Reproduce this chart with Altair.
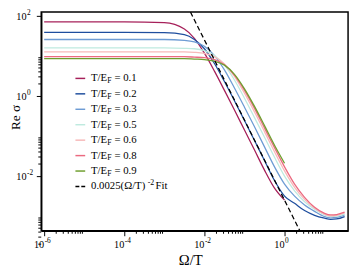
import altair as alt
import pandas as pd

# ---- data ----
omega = [1e-6, 1e-4, 1e-3, 3.16e-3, 5.62e-3, 1e-2, 1.78e-2, 3.16e-2, 5.62e-2,
         0.1, 0.178, 0.316, 0.562, 1.0, 1.78, 3.16, 5.62, 10.0, 14.1, 20.0, 31.6]

sig_01 = [70.8, 70.8, 67.6, 46.8, 27.5, 11.7, 4.17, 1.38, 0.447, 0.141, 0.0447,
          0.0141, 0.00501, 0.00251]
sig_02 = [38.9, 38.9, 38.0, 33.9, 25.7, 15.1, 6.46, 2.29, 0.759, 0.245, 0.0776,
          0.0245, 0.00776, 0.00316, 0.00209, 0.00138, 0.00105, 0.000891,
          0.000832, 0.000851, 0.000977]
sig_03 = [25.7, 25.7, 25.7, 24.5, 22.4, 17.4, 10.2, 4.47, 1.58, 0.525, 0.170,
          0.0537, 0.0170, 0.00631, 0.00316, 0.00191, 0.00132, 0.000977,
          0.000912, 0.000933, 0.00107]
sig_05 = [15.8, 15.8, 15.8, 15.5, 15.1, 13.5, 10.2, 5.89, 2.51, 0.881, 0.288,
          0.0933, 0.0295, 0.0100, 0.00427, 0.00229, 0.00148, 0.00107,
          0.000977, 0.00100, 0.00112]
sig_06 = [12.6, 12.6, 12.6, 12.6, 12.3, 11.5, 9.55, 6.31, 3.09, 1.17, 0.398,
          0.129, 0.0407, 0.0135, 0.00525, 0.00263, 0.00158, 0.00112,
          0.00102, 0.00105, 0.00120]
sig_08 = [9.55, 9.55, 9.55, 9.55, 9.33, 9.02, 8.05, 6.03, 3.31, 1.38, 0.490,
          0.158, 0.0513, 0.0170, 0.00631, 0.00295, 0.00166, 0.00117,
          0.00107, 0.00110, 0.00126]
sig_09 = [8.51, 8.51, 8.51, 8.51, 8.32, 8.13, 7.41, 5.89, 3.47, 1.51, 0.550,
          0.182, 0.0589, 0.0209]

temps = ["0.1", "0.2", "0.3", "0.5", "0.6", "0.8", "0.9"]
series = [sig_01, sig_02, sig_03, sig_05, sig_06, sig_08, sig_09]
colors = ["#A6205A", "#1F4E9E", "#6E9CD4", "#BFEADF", "#F7B9B9", "#EB6A80", "#6E9F2E"]

fit_x = [0.003, 3.0]
fit_y = [278.0, 0.000278]

x_major = [1e-6, 1e-4, 1e-2, 1.0]
x_exp = ["-6", "-4", "-2", "0"]
y_major = [1e-2, 1.0, 100.0]
y_exp = ["-2", "0", "2"]
minor_mult = [2, 3, 4, 5, 6, 7, 8, 9]

x_title = "Ω/T"
y_title = "Re σ"

# ---- tables ----
rows = []
for t, vals in zip(temps, series):
    for i, v in enumerate(vals):
        rows.append({"omega": omega[i], "sigma": v, "T": t, "k": i})
df = pd.DataFrame(rows)
fit_df = pd.DataFrame({"omega": fit_x, "sigma": fit_y})

x_minor = [m * d for d in x_major for m in minor_mult]
y_minor = [m * d for d in [1e-4, 1e-2, 1.0] for m in minor_mult]

W, H = 314, 224
xscale = alt.Scale(type="log", domain=[8.45e-7, 38.5], nice=False)
yscale = alt.Scale(type="log", domain=[4.3e-4, 125.2], nice=False)

FONT = "Liberation Serif"

xaxis = alt.Axis(values=x_major, labels=False, title=None, tickSize=5, grid=False)
yaxis = alt.Axis(values=y_major, labels=False, title=None, tickSize=5, grid=False)

color_scale = alt.Scale(domain=temps, range=colors)

curves = alt.Chart(df).mark_line(clip=True, strokeWidth=1.3, interpolate="monotone").encode(
    x=alt.X("omega:Q", scale=xscale, axis=xaxis),
    y=alt.Y("sigma:Q", scale=yscale, axis=yaxis),
    color=alt.Color("T:N", scale=color_scale, legend=None),
    order="k:Q",
)

fit = alt.Chart(fit_df).mark_line(clip=True, strokeWidth=1.3, color="black",
                                  strokeDash=[5, 3]).encode(
    x=alt.X("omega:Q", scale=xscale, axis=xaxis),
    y=alt.Y("sigma:Q", scale=yscale, axis=yaxis),
)

# minor ticks (outward, short)
xm = pd.DataFrame({"omega": x_minor})
ym = pd.DataFrame({"sigma": y_minor})
x_minor_ticks = alt.Chart(xm).mark_rule(color="black", strokeWidth=1).encode(
    x=alt.X("omega:Q", scale=xscale, axis=xaxis),
    y=alt.value(H), y2=alt.value(H + 3),
)
y_minor_ticks = alt.Chart(ym).mark_rule(color="black", strokeWidth=1).encode(
    y=alt.Y("sigma:Q", scale=yscale, axis=yaxis),
    x=alt.value(0), x2=alt.value(-3),
)

# tick labels: "10" with a raised exponent
xl = pd.DataFrame({"omega": x_major, "exp": x_exp})
yl = pd.DataFrame({"sigma": y_major, "exp": y_exp})
x_lab10 = alt.Chart(xl).mark_text(align="right", baseline="middle", font=FONT,
                                  fontSize=10.5, color="black").encode(
    x=alt.X("omega:Q", scale=xscale, axis=xaxis), y=alt.value(H + 15),
    text=alt.value("10"))
x_labexp = alt.Chart(xl).mark_text(align="left", baseline="middle", font=FONT,
                                   fontSize=7.5, dx=0.5, color="black").encode(
    x=alt.X("omega:Q", scale=xscale, axis=xaxis), y=alt.value(H + 10),
    text="exp:N")
y_lab10 = alt.Chart(yl).mark_text(align="right", baseline="middle", font=FONT,
                                  fontSize=10.5, dy=1, color="black").encode(
    y=alt.Y("sigma:Q", scale=yscale, axis=yaxis), x=alt.value(-15),
    text=alt.value("10"))
y_labexp = alt.Chart(yl).mark_text(align="left", baseline="middle", font=FONT,
                                   fontSize=7.5, dy=-3, dx=0.5, color="black").encode(
    y=alt.Y("sigma:Q", scale=yscale, axis=yaxis), x=alt.value(-15),
    text="exp:N")

# axis titles
xt = alt.Chart(pd.DataFrame({"t": [x_title]})).mark_text(
    align="center", baseline="middle", font=FONT, fontSize=15, color="black").encode(
    x=alt.value(W / 2 - 4), y=alt.value(H + 30), text="t:N")
yt = alt.Chart(pd.DataFrame({"t": [y_title]})).mark_text(
    align="center", baseline="middle", font=FONT, fontSize=13.5, angle=270,
    color="black").encode(
    x=alt.value(-26), y=alt.value(108), text="t:N")

# ---- hand-drawn legend (for subscripts / superscripts) ----
n = len(temps)
leg = pd.DataFrame({
    "T": temps,
    "row": list(range(n)),
})
leg["ly"] = 68 + 15.8 * leg["row"]
leg["x1"] = 35
leg["x2"] = 45
leg["eq"] = ["= " + t for t in temps]

leg_lines = alt.Chart(leg).mark_rule(strokeWidth=1.5).encode(
    x=alt.X("x1:Q", scale=None), x2="x2:Q",
    y=alt.Y("ly:Q", scale=None),
    color=alt.Color("T:N", scale=color_scale, legend=None),
)
leg_te = alt.Chart(leg).mark_text(align="left", baseline="middle", font=FONT,
                                  fontSize=11, color="black").encode(
    x=alt.value(51), y=alt.Y("ly:Q", scale=None), text=alt.value("T/E"))
leg_f = alt.Chart(leg).mark_text(align="left", baseline="middle", font=FONT,
                                 fontSize=8, dy=3, color="black").encode(
    x=alt.value(67.5), y=alt.Y("ly:Q", scale=None), text=alt.value("F"))
leg_eq = alt.Chart(leg).mark_text(align="left", baseline="middle", font=FONT,
                                  fontSize=11, color="black").encode(
    x=alt.value(75), y=alt.Y("ly:Q", scale=None), text="eq:N")

fit_leg = pd.DataFrame({"ly": [68 + 15.8 * n], "x1": [35], "x2": [45]})
fit_line_leg = alt.Chart(fit_leg).mark_rule(strokeWidth=1.5, color="black",
                                            strokeDash=[4, 2]).encode(
    x=alt.X("x1:Q", scale=None), x2="x2:Q", y=alt.Y("ly:Q", scale=None))
fit_txt1 = alt.Chart(fit_leg).mark_text(align="left", baseline="middle", font=FONT,
                                        fontSize=11, color="black").encode(
    x=alt.value(51), y=alt.Y("ly:Q", scale=None), text=alt.value("0.0025(Ω/T)"))
fit_txt2 = alt.Chart(fit_leg).mark_text(align="left", baseline="middle", font=FONT,
                                        fontSize=8, dy=-4, color="black").encode(
    x=alt.value(109), y=alt.Y("ly:Q", scale=None), text=alt.value("-2"))
fit_txt3 = alt.Chart(fit_leg).mark_text(align="left", baseline="middle", font=FONT,
                                        fontSize=11, color="black").encode(
    x=alt.value(117), y=alt.Y("ly:Q", scale=None), text=alt.value("Fit"))

chart = alt.layer(
    curves, fit, x_minor_ticks, y_minor_ticks,
    x_lab10, x_labexp, y_lab10, y_labexp, xt, yt,
    leg_lines, leg_te, leg_f, leg_eq,
    fit_line_leg, fit_txt1, fit_txt2, fit_txt3,
).properties(
    width=W, height=H,
    autosize=alt.AutoSizeParams(type="none"),
    padding={"left": 34, "top": 1, "right": 3, "bottom": 36},
).configure_view(
    stroke="black", strokeWidth=1.5
).configure_axis(
    domainColor="black", domainWidth=1.5, tickColor="black", tickWidth=1,
)

chart.save("out.html", embed_options={"renderer": "svg", "actions": False})
